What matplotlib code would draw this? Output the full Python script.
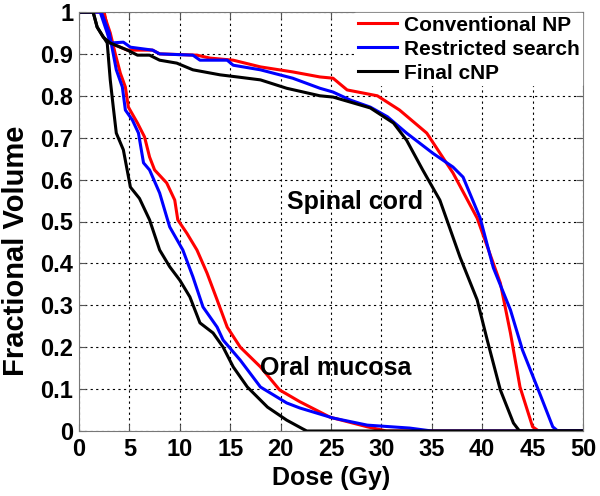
import numpy as np
import matplotlib
matplotlib.use("Agg")
import matplotlib.pyplot as plt
from matplotlib.ticker import FuncFormatter

# spinal cord DVH curves (dose in Gy, fractional volume)
cord_conv_x = [0, 2.5, 3.1, 4.8, 7.3, 8.0, 11.7, 13.0, 15.3, 18.0, 21.2, 23.9, 25.2, 26.6, 29.6,
               31.8, 34.5, 37.1, 39.5, 41.8, 42.8, 43.75, 45.0, 45.6, 50]
cord_conv_y = [1, 1, 0.926, 0.909, 0.909, 0.90, 0.897, 0.89, 0.885, 0.869, 0.857, 0.845, 0.842, 0.814,
               0.80, 0.766, 0.711, 0.616, 0.508, 0.353, 0.234, 0.105, 0.01, 0, 0]
cord_rs_x = [0, 2.1, 2.8, 3.1, 4.4, 5.1, 7.3, 8.0, 11.3, 12.0, 14.7, 15.3, 18.0, 21.2, 23.9, 25.2,
             26.9, 28.9, 30.6, 32.5, 35.1, 37.1, 38.1, 39.8, 41.1, 42.8, 44.0, 45.7, 47.0, 47.5, 50]
cord_rs_y = [1, 1, 0.95, 0.926, 0.928, 0.916, 0.909, 0.90, 0.897, 0.885, 0.885, 0.873, 0.862, 0.842,
             0.818, 0.809, 0.79, 0.773, 0.75, 0.711, 0.663, 0.63, 0.606, 0.508, 0.39, 0.289, 0.193,
             0.09, 0.01, 0, 0]
cord_cnp_x = [0, 1.4, 1.8, 2.4, 3.1, 4.8, 5.8, 7.0, 8.0, 9.7, 11.3, 14.0, 15.7, 18.0, 20.6, 23.9,
              25.2, 27.2, 28.9, 31.2, 32.5, 34.1, 35.8, 37.8, 39.5, 40.5, 41.8, 43.1, 43.7, 50]
cord_cnp_y = [1, 1, 0.964, 0.94, 0.926, 0.909, 0.897, 0.897, 0.885, 0.878, 0.862, 0.85, 0.845, 0.838,
              0.818, 0.80, 0.797, 0.783, 0.771, 0.735, 0.694, 0.623, 0.551, 0.415, 0.313, 0.217,
              0.098, 0.019, 0, 0]

# oral mucosa DVH curves
oral_conv_x = [0, 2.4, 3.1, 3.6, 4.1, 4.6, 4.9, 5.8, 6.5, 7.0, 7.5, 8.7, 9.5, 9.8, 10.7, 11.7, 12.7,
               13.7, 14.7, 16.0, 18.0, 19.9, 21.9, 24.9, 28.6, 30.5, 50]
oral_conv_y = [1, 1, 0.95, 0.90, 0.854, 0.821, 0.773, 0.735, 0.702, 0.654, 0.623, 0.592, 0.551, 0.504,
               0.472, 0.432, 0.377, 0.313, 0.248, 0.20, 0.153, 0.098, 0.07, 0.033, 0.01, 0, 0]
oral_rs_x = [0, 2.2, 3.0, 3.4, 3.7, 4.3, 4.6, 5.3, 5.9, 6.4, 7.0, 8.0, 8.7, 9.0, 10.3, 11.3, 12.3,
             13.7, 14.3, 16.0, 18.0, 20.6, 21.9, 25.2, 28.6, 32.8, 35.0, 50]
oral_rs_y = [1, 1, 0.95, 0.90, 0.862, 0.821, 0.766, 0.742, 0.711, 0.640, 0.623, 0.568, 0.511, 0.487,
             0.432, 0.368, 0.296, 0.248, 0.217, 0.169, 0.105, 0.067, 0.055, 0.031, 0.014, 0.007, 0, 0]
oral_cnp_x = [0, 1.4, 1.8, 2.8, 3.1, 3.4, 3.7, 4.4, 5.1, 6.0, 7.0, 8.0, 9.0, 10.0, 11.0, 12.0, 13.3,
              14.3, 15.3, 16.7, 18.7, 20.6, 22.2, 22.6, 50]
oral_cnp_y = [1, 1, 0.964, 0.926, 0.838, 0.773, 0.711, 0.671, 0.582, 0.555, 0.504, 0.432, 0.392, 0.36,
              0.32, 0.258, 0.234, 0.20, 0.153, 0.105, 0.057, 0.026, 0.005, 0, 0]

plt.rcParams['font.family'] = ['Liberation Sans', 'DejaVu Sans']
plt.rcParams['font.weight'] = 'bold'

fig = plt.figure(figsize=(6, 4.96), dpi=100)
ax = fig.add_axes([79 / 600, 1 - 431 / 496, (583 - 79) / 600, (431 - 12) / 496])

lw = 2.2
l1, = ax.plot(cord_conv_x, cord_conv_y, color='#ff0000', lw=lw, label='Conventional NP')
ax.plot(oral_conv_x, oral_conv_y, color='#ff0000', lw=lw)
l2, = ax.plot(cord_rs_x, cord_rs_y, color='#0000ff', lw=lw, label='Restricted search')
ax.plot(oral_rs_x, oral_rs_y, color='#0000ff', lw=lw)
l3, = ax.plot(cord_cnp_x, cord_cnp_y, color='black', lw=lw, label='Final cNP')
ax.plot(oral_cnp_x, oral_cnp_y, color='black', lw=lw)

ax.set_xlim(0, 50)
ax.set_ylim(0, 1)
ax.set_xticks(np.arange(0, 51, 5))
ax.set_yticks(np.arange(0, 1.01, 0.1))
ax.yaxis.set_major_formatter(FuncFormatter(lambda v, p: '%g' % round(v, 1)))
ax.grid(True, linestyle=(0, (2, 3)), color='black', linewidth=0.8)
ax.tick_params(direction='in', labelsize=17, length=5, color='#555555',
               top=True, right=True)
ax.tick_params(axis='x', pad=5)
ax.tick_params(axis='y', pad=4)
for lab in ax.get_xticklabels() + ax.get_yticklabels():
    lab.set_fontweight('bold')
for sp in ax.spines.values():
    sp.set_color('#777777')

ax.set_xlabel('Dose (Gy)', fontsize=18, fontweight='bold')
ax.xaxis.set_label_coords(0.5, -0.112)
ax.xaxis.label.set_verticalalignment('center')
ax.set_ylabel('Fractional Volume', fontsize=21, fontweight='bold')
ax.yaxis.set_label_coords(-0.125, 0.43)
ax.yaxis.label.set_verticalalignment('center')

ax.text(27.4, 0.547, 'Spinal cord', fontsize=18, fontweight='bold', ha='center', va='center')
ax.text(25.5, 0.15, 'Oral mucosa', fontsize=18, fontweight='bold', ha='center', va='center')

leg = ax.legend(handles=[l1, l2, l3], loc='upper right', frameon=True, fancybox=False,
                prop={'size': 15, 'weight': 'bold'}, handlelength=1.9, handletextpad=0.3,
                borderaxespad=0.05, labelspacing=0.24, borderpad=0.12)
leg.get_frame().set_edgecolor('white')
leg.get_frame().set_alpha(1)

fig.savefig('out.png', dpi=100)
